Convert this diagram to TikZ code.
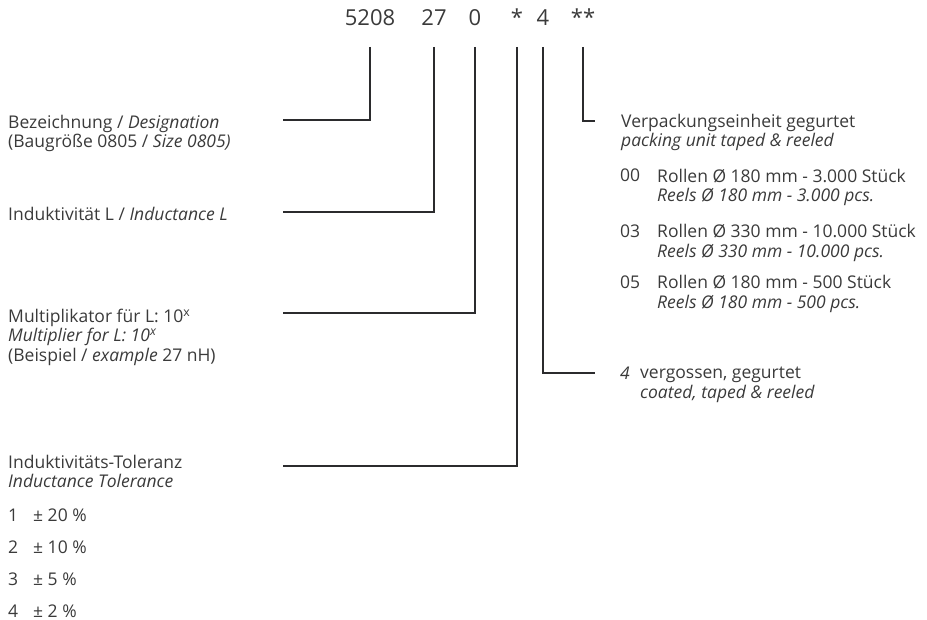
\documentclass[tikz,border=0pt]{standalone}
\usepackage{fontspec}
\setmainfont{Open Sans}
\usepackage{tikz}
\usepackage{xcolor}
\definecolor{text-gray}{HTML}{3A3A3A}
\definecolor{line-gray}{HTML}{2B2B2D}
\tikzset{
    code-digit/.style = {anchor=base, inner sep=0pt, text=text-gray, font=\fontsize{22}{24}\selectfont},
    label-text/.style = {anchor=north west, inner sep=0pt, align=left, text=text-gray, font=\fontsize{17.5}{19.5}\selectfont},
    item-text/.style = {anchor=base west, inner sep=0pt, text=text-gray, font=\fontsize{17.5}{19.5}\selectfont},
    leader-line/.style = {draw=line-gray, line width=2.6pt},
}

\begin{document}
\begin{tikzpicture}[x=1pt, y=-1pt]
\useasboundingbox (0,0) rectangle (927,620);

% order code
\node[code-digit] (c5208) at (370,26) {5208};
\node[code-digit] (c27) at (434,26) {27};
\node[code-digit] (c0) at (475,26) {0};
\node[code-digit] (cstar) at (517,26) {*};
\node[code-digit] (c4) at (543,26) {4};
\node[code-digit] (cstars) at (583,26) {**};
\coordinate (tick) at (0,47);

% left labels
\node[label-text] (bez) at (8,115) {Bezeichnung / \textit{Designation}\\(Baugröße 0805 / \textit{Size 0805)}};
\node[label-text] (ind) at (8,207.5) {Induktivität L / \textit{Inductance L}};
\node[label-text] (mul) at (8,308.7) {Multiplikator für L: 10\textsuperscript{x}\\\textit{Multiplier for L: 10\textsuperscript{x}}\\(Beispiel / \textit{example} 27 nH)};
\node[label-text] (tol) at (8,455) {Induktivitäts-Toleranz\\\textit{Inductance Tolerance}};
\node[item-text] (t1) at (8,521.5) {1};
\node[item-text] (v1) at (33,521.5) {± 20 \%};
\node[item-text] (t2) at (8,553.5) {2};
\node[item-text] (v2) at (33,553.5) {± 10 \%};
\node[item-text] (t3) at (8,585.5) {3};
\node[item-text] (v3) at (33,585.5) {± 5 \%};
\node[item-text] (t4) at (8,617) {4};
\node[item-text] (v4) at (33,617) {± 2 \%};

% right labels
\node[label-text] (pack) at (621,114) {Verpackungseinheit gegurtet\\\textit{packing unit taped \& reeled}};
\node[item-text] (n00) at (620,181.7) {00};
\node[label-text] (r00) at (657,168.7) {Rollen Ø 180 mm - 3.000 Stück\\\textit{Reels Ø 180 mm - 3.000 pcs.}};
\node[item-text] (n03) at (620,237.3) {03};
\node[label-text] (r03) at (657,224.3) {Rollen Ø 330 mm - 10.000 Stück\\\textit{Reels Ø 330 mm - 10.000 pcs.}};
\node[item-text] (n05) at (620,288.3) {05};
\node[label-text] (r05) at (657,275.3) {Rollen Ø 180 mm - 500 Stück\\\textit{Reels Ø 180 mm - 500 pcs.}};
\node[item-text] (n4) at (620,380) {\textit{4}};
\node[label-text] (coat) at (640,367) {vergossen, gegurtet\\\textit{coated, taped \& reeled}};

% leader lines
\coordinate (e5208) at (283,120);
\coordinate (e27) at (283,212);
\coordinate (e0) at (283,313);
\coordinate (estar) at (283,466);
\coordinate (e4) at (595,373);
\coordinate (estars) at (595,121);
\draw[leader-line] (c5208 |- tick) |- (e5208);
\draw[leader-line] (c27 |- tick) |- (e27);
\draw[leader-line] (c0 |- tick) |- (e0);
\draw[leader-line] (cstar |- tick) |- (estar);
\draw[leader-line] (c4 |- tick) |- (e4);
\draw[leader-line] (cstars |- tick) |- (estars);
\end{tikzpicture}
\end{document}
